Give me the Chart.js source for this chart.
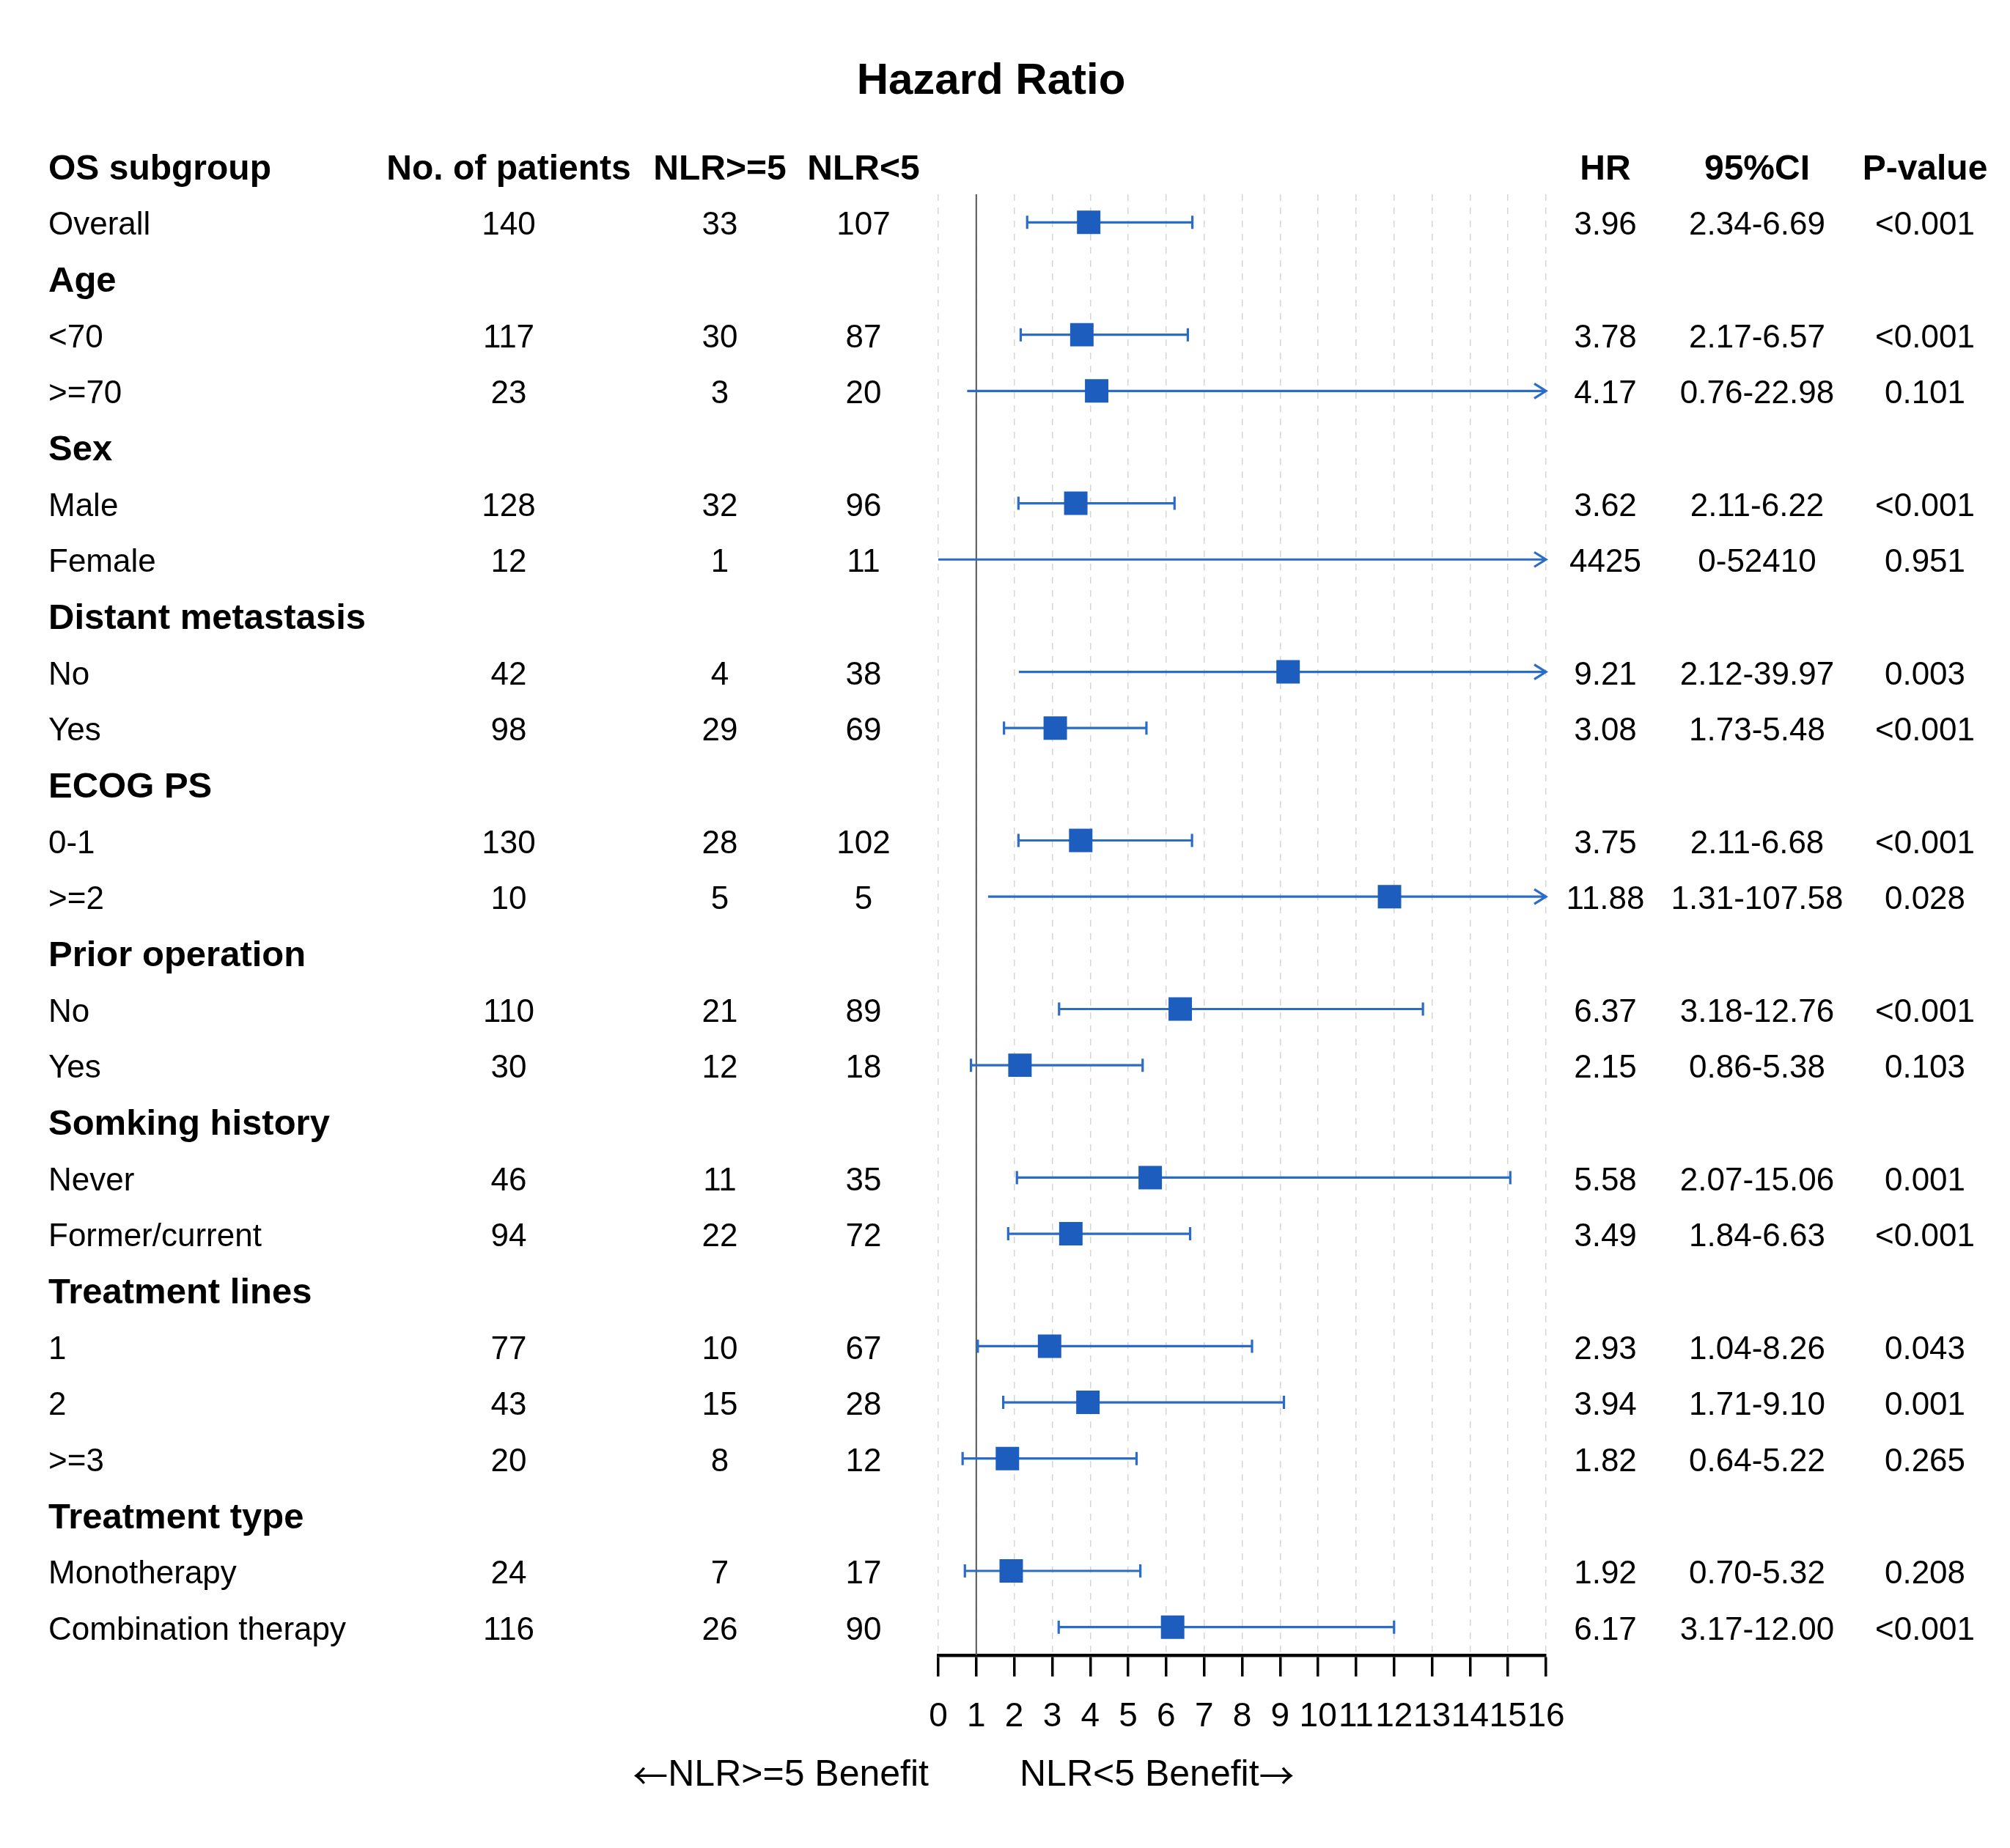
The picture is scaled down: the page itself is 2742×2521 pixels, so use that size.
<!DOCTYPE html>
<html>
<head>
<meta charset="utf-8">
<script src="https://cdn.jsdelivr.net/npm/chart.js@4"></script>
<style>
  body { margin: 0; background: #fff; }
  #wrap { width: 2742px; height: 2521px; }
</style>
</head>
<body>
<div id="wrap"><canvas id="forest" width="2742" height="2521"></canvas></div>
<script>
// rows from top to bottom; group headers have no numbers
const subgroups = ["Overall", "Age", "<70", ">=70", "Sex", "Male", "Female",
    "Distant metastasis", "No", "Yes", "ECOG PS", "0-1", ">=2",
    "Prior operation", "No", "Yes", "Somking history", "Never", "Former/current",
    "Treatment lines", "1", "2", ">=3", "Treatment type", "Monotherapy", "Combination therapy"];
const groupHeader = [false, true, false, false, true, false, false,
    true, false, false, true, false, false,
    true, false, false, true, false, false,
    true, false, false, false, true, false, false];
const patients = [140, null, 117, 23, null, 128, 12, null, 42, 98, null, 130, 10,
    null, 110, 30, null, 46, 94, null, 77, 43, 20, null, 24, 116];
const nlrHigh = [33, null, 30, 3, null, 32, 1, null, 4, 29, null, 28, 5,
    null, 21, 12, null, 11, 22, null, 10, 15, 8, null, 7, 26];
const nlrLow = [107, null, 87, 20, null, 96, 11, null, 38, 69, null, 102, 5,
    null, 89, 18, null, 35, 72, null, 67, 28, 12, null, 17, 90];
const hr = [3.96, null, 3.78, 4.17, null, 3.62, 4425, null, 9.21, 3.08, null, 3.75, 11.88,
    null, 6.37, 2.15, null, 5.58, 3.49, null, 2.93, 3.94, 1.82, null, 1.92, 6.17];
const ciLow = [2.34, null, 2.17, 0.76, null, 2.11, 0, null, 2.12, 1.73, null, 2.11, 1.31,
    null, 3.18, 0.86, null, 2.07, 1.84, null, 1.04, 1.71, 0.64, null, 0.70, 3.17];
const ciHigh = [6.69, null, 6.57, 22.98, null, 6.22, 52410, null, 39.97, 5.48, null, 6.68, 107.58,
    null, 12.76, 5.38, null, 15.06, 6.63, null, 8.26, 9.10, 5.22, null, 5.32, 12.00];
const pValues = ["<0.001", "", "<0.001", "0.101", "", "<0.001", "0.951", "", "0.003", "<0.001", "", "<0.001", "0.028",
    "", "<0.001", "0.103", "", "0.001", "<0.001", "", "0.043", "0.001", "0.265", "", "0.208", "<0.001"];
const headers = ["OS subgroup", "No. of patients", "NLR>=5", "NLR<5", "HR", "95%CI", "P-value"];
const xTicks = [0, 16];
const chartTitle = "Hazard Ratio";
const leftNote = "NLR>=5 Benefit";
const rightNote = "NLR<5 Benefit";

const BLUE = "#1c5dbd";
const LINE_BLUE = "#2b6cc9";
const FONT = '"Liberation Sans", Arial, sans-serif';
const ARROW_FONT = '"Noto Sans CJK SC", "DejaVu Sans", sans-serif';

function fmt(v) {
    return (v === 0 || v >= 1000) ? String(v) : v.toFixed(2);
}

const points = [];
hr.forEach((v, i) => {
    if (v !== null && v <= xTicks[1]) points.push({ x: v, y: i });
});

// reference line at 1 and the CI whiskers, under the squares
const whiskers = {
    id: "whiskers",
    beforeDatasetsDraw(chart) {
        const { ctx, chartArea, scales: { x, y } } = chart;
        ctx.save();
        ctx.strokeStyle = "#555";
        ctx.lineWidth = 2;
        ctx.beginPath();
        ctx.moveTo(x.getPixelForValue(1), chartArea.top);
        ctx.lineTo(x.getPixelForValue(1), chartArea.bottom);
        ctx.stroke();

        ctx.strokeStyle = LINE_BLUE;
        ctx.lineWidth = 3.2;
        for (let i = 0; i < hr.length; i++) {
            if (hr[i] === null) continue;
            const arrow = ciHigh[i] > x.max;
            const x1 = x.getPixelForValue(Math.max(ciLow[i], x.min));
            const x2 = x.getPixelForValue(Math.min(ciHigh[i], x.max));
            const yy = y.getPixelForValue(i);
            ctx.beginPath();
            ctx.moveTo(x1, yy);
            ctx.lineTo(x2, yy);
            if (arrow) {
                ctx.moveTo(x2 - 16, yy - 10);
                ctx.lineTo(x2, yy);
                ctx.lineTo(x2 - 16, yy + 10);
            } else {
                ctx.moveTo(x1, yy - 9);
                ctx.lineTo(x1, yy + 9);
                ctx.moveTo(x2, yy - 9);
                ctx.lineTo(x2, yy + 9);
            }
            ctx.stroke();
        }
        ctx.restore();
    }
};

// title, table columns and the benefit notes
const table = {
    id: "table",
    afterDraw(chart) {
        const { ctx, scales: { y } } = chart;
        const cols = [66, 694, 982, 1178, 2190, 2397, 2626];
        ctx.save();
        ctx.fillStyle = "#000";
        ctx.textBaseline = "middle";

        ctx.font = "bold 60px " + FONT;
        ctx.textAlign = "center";
        ctx.fillText(chartTitle, 1352, 111);

        const hy = y.getPixelForValue(-1) + 5;
        ctx.font = "bold 48px " + FONT;
        headers.forEach((h, k) => {
            ctx.textAlign = k === 0 ? "left" : "center";
            ctx.fillText(h, cols[k], hy);
        });

        for (let i = 0; i < subgroups.length; i++) {
            const yy = y.getPixelForValue(i) + 5;
            ctx.textAlign = "left";
            ctx.font = (groupHeader[i] ? "bold 49px " : "44px ") + FONT;
            ctx.fillText(subgroups[i], cols[0], yy);
            if (groupHeader[i]) continue;
            ctx.font = "44px " + FONT;
            ctx.textAlign = "center";
            ctx.fillText(String(patients[i]), cols[1], yy);
            ctx.fillText(String(nlrHigh[i]), cols[2], yy);
            ctx.fillText(String(nlrLow[i]), cols[3], yy);
            ctx.fillText(fmt(hr[i]), cols[4], yy);
            ctx.fillText(fmt(ciLow[i]) + "-" + fmt(ciHigh[i]), cols[5], yy);
            ctx.fillText(pValues[i], cols[6], yy);
        }

        // benefit notes, arrows drawn in a font that has wide arrows
        const ny = 2422;
        ctx.font = "50px " + FONT;
        ctx.textAlign = "right";
        ctx.fillText(leftNote, 1267, ny);
        const lw = ctx.measureText(leftNote).width;
        ctx.textAlign = "left";
        ctx.fillText(rightNote, 1391, ny);
        const rw = ctx.measureText(rightNote).width;
        ctx.font = "48px " + ARROW_FONT;
        ctx.textAlign = "right";
        ctx.fillText("\u2190", 1267 - lw, ny);
        ctx.textAlign = "left";
        ctx.fillText("\u2192", 1391 + rw, ny);
        ctx.restore();
    }
};

new Chart(document.getElementById("forest"), {
    type: "scatter",
    data: {
        datasets: [{
            data: points,
            backgroundColor: BLUE,
            borderWidth: 0,
            pointStyle: "rect",
            pointRadius: 22.6,
            pointHoverRadius: 22.6
        }]
    },
    options: {
        responsive: false,
        animation: false,
        devicePixelRatio: 1,
        layout: { padding: { left: 1280, right: 633, top: 265, bottom: 113 } },
        plugins: {
            legend: { display: false },
            tooltip: { enabled: false }
        },
        scales: {
            x: {
                type: "linear",
                min: xTicks[0],
                max: xTicks[1],
                afterFit(scale) { scale.height = 150; },
                ticks: {
                    stepSize: 1,
                    autoSkip: false,
                    maxRotation: 0,
                    minRotation: 0,
                    padding: 28,
                    color: "#000",
                    font: { family: FONT, size: 46 }
                },
                grid: {
                    color: "#d6d6d6",
                    lineWidth: 1.5,
                    tickColor: "#000",
                    tickWidth: 3.5,
                    tickLength: 29,
                    tickBorderDash: []
                },
                border: { display: true, color: "#000", width: 4.5, dash: [9, 9] }
            },
            y: {
                type: "linear",
                display: false,
                reverse: true,
                min: -0.5,
                max: 25.5
            }
        }
    },
    plugins: [whiskers, table]
});
</script>
</body>
</html>
